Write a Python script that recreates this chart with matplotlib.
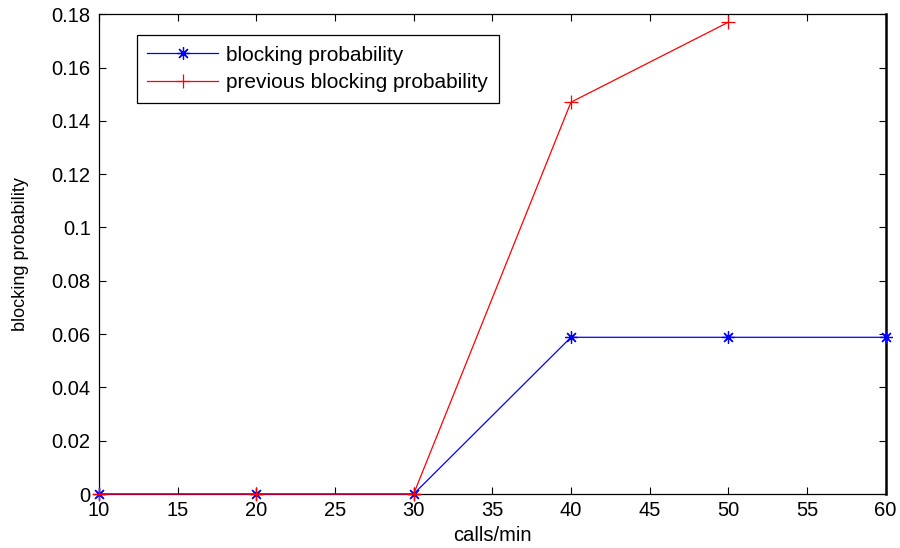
import matplotlib
matplotlib.use("Agg")
import matplotlib.pyplot as plt

# ---------- data ----------
calls = [10, 20, 30, 40, 50, 60]
blocking = [0, 0, 0, 0.0588, 0.0588, 0.0588]
prev_calls = [10, 20, 30, 40, 50]
prev_blocking = [0, 0, 0, 0.147, 0.177]

x_ticks = [10, 15, 20, 25, 30, 35, 40, 45, 50, 55, 60]
y_ticks = [0, 0.02, 0.04, 0.06, 0.08, 0.1, 0.12, 0.14, 0.16, 0.18]
y_tick_labels = ["0", "0.02", "0.04", "0.06", "0.08", "0.1", "0.12", "0.14", "0.16", "0.18"]

plt.rcParams["font.family"] = ["Liberation Sans", "DejaVu Sans"]

fig = plt.figure(figsize=(9, 5.48), dpi=100)
ax = fig.add_axes([0.11, 0.0985, 0.874, 0.8755])

# asterisk marker like matlab '*'
ax.plot(calls, blocking, "-", color="blue", lw=0.9, marker=(8, 2, 0),
        markersize=9, markeredgewidth=0.9, clip_on=False, zorder=3,
        label="blocking probability")
ax.plot(prev_calls, prev_blocking, "-", color="red", lw=0.9, marker="+",
        markersize=10, markeredgewidth=0.9, clip_on=False, zorder=3,
        label="previous blocking probability")

ax.set_xlim(10, 60)
ax.set_ylim(0, 0.18)
ax.set_xticks(x_ticks)
ax.set_yticks(y_ticks)
ax.set_yticklabels(y_tick_labels)
ax.tick_params(direction="in", length=5, width=0.8, top=True, right=True,
               labelsize=14.5)
ax.tick_params(axis="x", pad=5)
ax.tick_params(axis="y", pad=6)
for s in ax.spines.values():
    s.set_linewidth(0.9)
ax.spines["right"].set_linewidth(1.8)

ax.set_xlabel("calls/min", fontsize=14.5, labelpad=4)
ax.set_ylabel("blocking probability", fontsize=13, labelpad=16)

leg = ax.legend(loc="upper left", bbox_to_anchor=(0.048, 0.956),
                fontsize=15, handlelength=3.4, handletextpad=0.4,
                borderpad=0.5, labelspacing=0.4, fancybox=False,
                framealpha=1, edgecolor="black", borderaxespad=0)
leg.get_frame().set_linewidth(0.9)

fig.savefig("out.png", dpi=100, facecolor="white")
